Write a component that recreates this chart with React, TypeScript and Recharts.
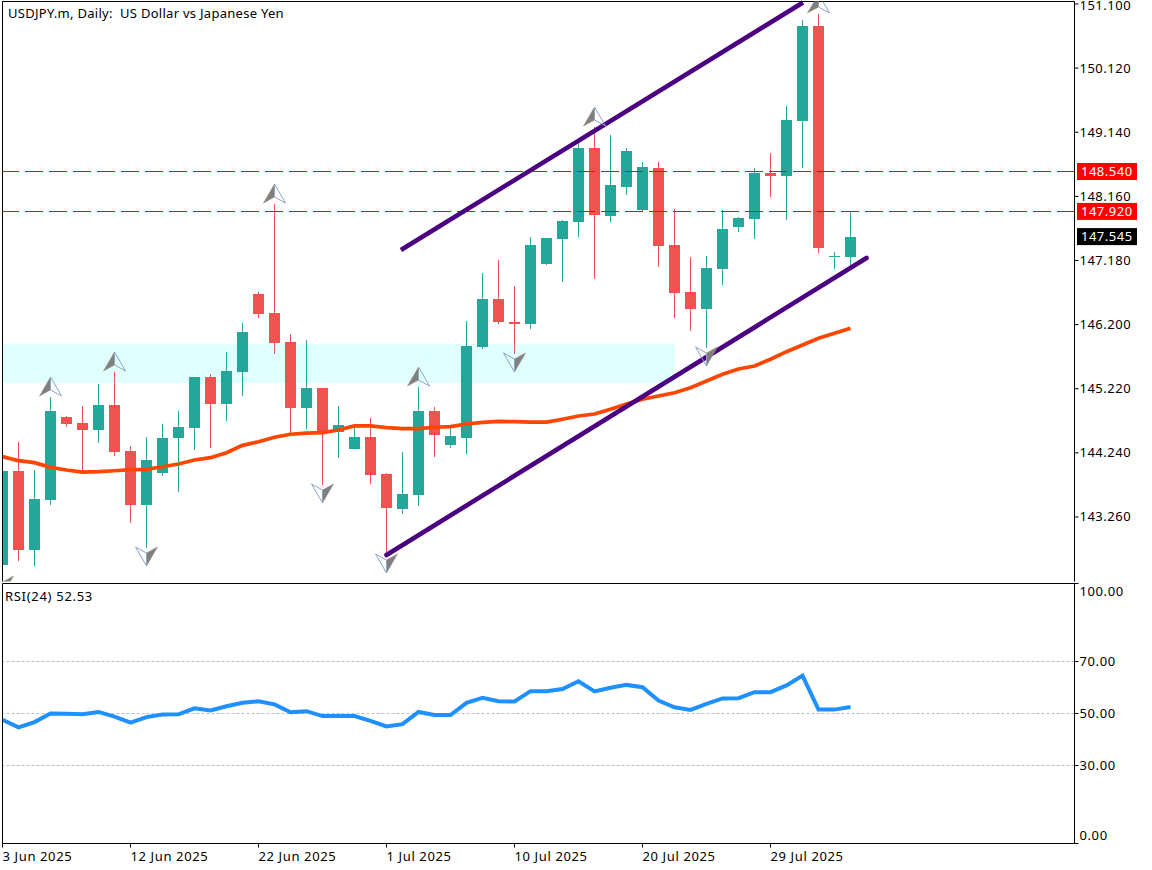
import {
  ComposedChart, Bar, Line, Scatter, XAxis, YAxis, ReferenceLine, ReferenceArea,
} from 'recharts'

const dates = [
  '3 Jun 2025', '4 Jun 2025', '5 Jun 2025', '6 Jun 2025', '8 Jun 2025', '9 Jun 2025', '10 Jun 2025', '11 Jun 2025', '12 Jun 2025',
  '13 Jun 2025', '15 Jun 2025', '16 Jun 2025', '17 Jun 2025', '18 Jun 2025', '19 Jun 2025', '20 Jun 2025', '22 Jun 2025',
  '23 Jun 2025', '24 Jun 2025', '25 Jun 2025', '26 Jun 2025', '27 Jun 2025', '29 Jun 2025', '30 Jun 2025', '1 Jul 2025',
  '2 Jul 2025', '3 Jul 2025', '4 Jul 2025', '6 Jul 2025', '7 Jul 2025', '8 Jul 2025', '9 Jul 2025', '10 Jul 2025',
  '11 Jul 2025', '13 Jul 2025', '14 Jul 2025', '15 Jul 2025', '16 Jul 2025', '17 Jul 2025', '18 Jul 2025', '20 Jul 2025',
  '21 Jul 2025', '22 Jul 2025', '23 Jul 2025', '24 Jul 2025', '25 Jul 2025', '27 Jul 2025', '28 Jul 2025', '29 Jul 2025',
  '30 Jul 2025', '31 Jul 2025', '1 Aug 2025', '3 Aug 2025', '4 Aug 2025',
]

const opens = [
  142.526, 143.963, 142.755, 143.520, 144.788, 144.696, 144.589, 144.971, 144.268, 143.443,
  143.932, 144.467, 144.620, 145.399, 144.987, 145.476, 146.668, 146.377, 145.934, 144.926,
  145.231, 144.559, 144.299, 144.482, 143.917, 143.382, 143.596, 144.880, 144.360, 144.467,
  145.858, 146.591, 146.240, 146.209, 147.126, 147.508, 147.768, 148.899, 147.860, 148.303,
  147.952, 148.594, 147.417, 146.698, 146.439, 147.050, 147.692, 147.814, 148.517, 148.471,
  149.312, 150.764, 147.233, 147.233,
]
const highs = [
  143.963, 144.406, 143.978, 145.094, 144.803, 144.956, 145.292, 145.476, 144.345, 144.482,
  144.681, 144.880, 145.399, 145.445, 145.781, 146.225, 146.698, 148.043, 146.056, 145.965,
  145.231, 144.956, 144.681, 144.773, 143.932, 144.253, 145.246, 144.941, 144.651, 146.255,
  146.989, 147.187, 146.790, 147.539, 147.524, 147.799, 149.052, 149.220, 149.098, 148.899,
  148.685, 148.685, 147.967, 147.233, 147.249, 147.952, 147.845, 148.594, 148.823, 149.541,
  150.855, 150.947, 147.310, 147.921,
]
const lows = [
  142.343, 142.587, 142.511, 143.443, 144.635, 143.932, 144.391, 144.192, 143.168, 142.786,
  143.886, 143.642, 144.284, 144.314, 144.727, 145.109, 146.301, 145.751, 144.498, 144.605,
  143.749, 144.161, 144.299, 143.764, 142.679, 143.306, 143.428, 144.177, 144.314, 144.223,
  145.827, 146.209, 145.751, 146.133, 147.111, 146.851, 147.539, 146.897, 147.768, 148.181,
  147.921, 147.080, 146.301, 146.102, 145.843, 146.805, 147.615, 147.508, 148.150, 147.799,
  148.594, 147.295, 147.050, 147.080,
]
const closes = [
  143.963, 142.755, 143.535, 144.880, 144.681, 144.589, 144.971, 144.253, 143.443, 144.131,
  144.467, 144.635, 145.399, 144.987, 145.491, 146.087, 146.362, 145.919, 144.926, 145.231,
  144.559, 144.666, 144.482, 143.902, 143.397, 143.611, 144.880, 144.513, 144.498, 145.873,
  146.591, 146.240, 146.209, 147.417, 147.524, 147.784, 148.899, 147.875, 148.334, 148.853,
  148.609, 147.402, 146.683, 146.439, 147.065, 147.662, 147.829, 148.517, 148.471, 149.327,
  150.764, 147.371, 147.249, 147.545,
]
const maValues = [
  144.182, 144.120, 144.090, 144.019, 143.978, 143.947, 143.952, 143.967, 143.983, 143.989,
  144.028, 144.070, 144.131, 144.166, 144.243, 144.355, 144.410, 144.478, 144.524, 144.543,
  144.548, 144.589, 144.651, 144.651, 144.625, 144.609, 144.609, 144.631, 144.640, 144.681,
  144.707, 144.722, 144.716, 144.711, 144.711, 144.753, 144.803, 144.834, 144.906, 144.987,
  145.059, 145.109, 145.159, 145.236, 145.338, 145.441, 145.522, 145.568, 145.670, 145.786,
  145.888, 145.991, 146.067, 146.144,
]
const rsiValues = [
  47.6, 44.7, 46.7, 50.0, 49.9, 49.7, 50.6, 48.8, 46.5, 48.6,
  49.6, 49.7, 52.0, 51.2, 52.8, 54.1, 54.7, 53.5, 50.5, 50.9,
  49.0, 49.0, 49.0, 47.2, 45.0, 45.9, 50.6, 49.4, 49.4, 54.1,
  56.0, 54.7, 54.6, 58.6, 58.6, 59.4, 62.4, 58.5, 59.9, 61.0,
  60.1, 55.0, 52.4, 51.4, 53.7, 55.8, 55.9, 58.2, 58.2, 60.8,
  64.6, 51.5, 51.5, 52.53,
]

const priceTicks = [143.26, 144.24, 145.22, 146.2, 147.18, 148.16, 149.14, 150.12, 151.1]
const rsiTicks = [0, 30, 50, 70, 100]
const dateTicks = [0, 8, 16, 24, 32, 40, 48]
const upArrows = [3, 7, 17, 26, 37, 51]
const downArrows = [0, 9, 20, 24, 32, 44]

const rows = dates.map((date, i) => ({
  x: i, date, open: opens[i], high: highs[i], low: lows[i], close: closes[i],
  range: [lows[i], highs[i]], ma: maValues[i], rsi: rsiValues[i],
}))
const upRows = upArrows.map(i => ({ x: i, y: highs[i] }))
const downRows = downArrows.map(i => ({ x: i, y: lows[i] }))

const FONT = '"Noto Sans", sans-serif'
const UP = '#26A69A'
const DOWN = '#EF5350'
const X_DOMAIN = [0, 67]
const PRICE_DOMAIN = [142.274, 151.138]

function Candle({ x, y, width, height, payload }: any) {
  const { open, high, low, close } = payload
  const color = close >= open ? UP : DOWN
  const perUnit = height / (high - low)
  const top = y + (high - Math.max(open, close)) * perUnit
  const bodyH = Math.max(Math.abs(open - close) * perUnit, 1.5)
  const mid = x + width / 2
  return (
    <g shapeRendering="crispEdges">
      <rect x={mid - 0.5} y={y} width={1} height={height} fill={color} />
      <rect x={x} y={top} width={width} height={bodyH} fill={color} />
    </g>
  )
}

function UpArrow({ cx, cy }: any) {
  return (
    <g>
      <polygon points={`${cx},${cy - 20} ${cx - 11},${cy - 1} ${cx},${cy - 7}`} fill="#808080" stroke="#a08f80" strokeWidth={0.6} />
      <polygon points={`${cx},${cy - 20} ${cx + 11},${cy - 1} ${cx},${cy - 7}`} fill="none" stroke="#8ba3c4" strokeWidth={1} />
    </g>
  )
}

function DownArrow({ cx, cy }: any) {
  return (
    <g>
      <polygon points={`${cx},${cy + 18} ${cx + 11},${cy - 1} ${cx},${cy + 5}`} fill="#808080" stroke="#a08f80" strokeWidth={0.6} />
      <polygon points={`${cx},${cy + 18} ${cx - 11},${cy - 1} ${cx},${cy + 5}`} fill="none" stroke="#8ba3c4" strokeWidth={1} />
    </g>
  )
}

function PriceLabel({ viewBox, text, bg }: any) {
  const mid = viewBox.y
  return (
    <g>
      <rect x={1077} y={mid - 8.5} width={60} height={17} fill={bg} />
      <text x={1081} y={mid + 4.5} fontSize={13} fontFamily={FONT} letterSpacing={0.5} fill="#fff">{text}</text>
    </g>
  )
}

function PriceTick({ x, y, payload }: any) {
  const nudge = payload.value === 151.1 ? 1.5 : 0
  return <text x={x} y={y + 4.5 + nudge} fontSize={13} fontFamily={FONT} letterSpacing={0.5} fill="#000">{payload.value.toFixed(3)}</text>
}

function RsiTick({ x, y, payload }: any) {
  const shift = payload.value === 100 ? 8 : payload.value === 0 ? -8 : 0
  return <text x={x} y={y + 4.5 + shift} fontSize={13} fontFamily={FONT} letterSpacing={0.6} fill="#000">{payload.value.toFixed(2)}</text>
}

function DateTick({ x, y, payload }: any) {
  return <text x={x} y={y + 11} fontSize={13} fontFamily={FONT} letterSpacing={0.62} fill="#000">{dates[payload.value]}</text>
}

export default function App() {
  return (
    <div style={{ position: 'absolute', left: 0, top: 0, width: 1152, height: 870, background: '#fff', overflow: 'hidden' }}>
      <div style={{ position: 'absolute', left: 0, top: 0 }}>
        <ComposedChart width={1152} height={583} data={rows} margin={{ top: 1.5, right: 0.5, bottom: 1.5, left: 2.5 }}>
          <XAxis dataKey="x" type="number" domain={X_DOMAIN} allowDataOverflow tick={false} tickLine={false} height={0} axisLine={{ stroke: '#000' }} />
          <YAxis orientation="right" type="number" domain={PRICE_DOMAIN} allowDataOverflow ticks={priceTicks} width={77} tickSize={4} tickMargin={1} interval={0} tick={<PriceTick />} axisLine={{ stroke: '#000' }} tickLine={{ stroke: '#000' }} />
          <ReferenceArea x1={0} x2={42} y1={145.308} y2={145.904} fill="#E0FFFF" fillOpacity={1} stroke="none" />
          <ReferenceLine y={148.54} stroke="#FF0000" strokeDasharray="18 6" shapeRendering="crispEdges" label={<PriceLabel text="148.540" bg="#FF0000" />} />
          <ReferenceLine y={147.93} stroke="#FF0000" strokeDasharray="18 6" shapeRendering="crispEdges" label={<PriceLabel text="147.920" bg="#FF0000" />} />
          <ReferenceLine y={147.545} stroke="none" label={<PriceLabel text="147.545" bg="#000000" />} />
          <Line dataKey="ma" stroke="#FF4500" strokeWidth={3.7} dot={false} isAnimationActive={false} />
          <Bar dataKey="range" barSize={11} shape={<Candle />} isAnimationActive={false} />
          <ReferenceLine segment={[{ x: 24, y: 142.679 }, { x: 54, y: 147.218 }]} stroke="#4B0082" strokeWidth={4.6} strokeLinecap="round" />
          <ReferenceLine segment={[{ x: 24.9, y: 147.34 }, { x: 50.03, y: 151.123 }]} stroke="#4B0082" strokeWidth={4.6} />
          <Scatter data={upRows} dataKey="y" shape={<UpArrow />} isAnimationActive={false} />
          <Scatter data={downRows} dataKey="y" shape={<DownArrow />} isAnimationActive={false} />
          <ReferenceLine x={0} stroke="#000" />
          <ReferenceLine y={151.138} stroke="#000" />
        </ComposedChart>
      </div>
      <div style={{ position: 'absolute', left: 0, top: 583 }}>
        <ComposedChart width={1152} height={287} data={rows} margin={{ top: 0.5, right: 0.5, bottom: 0.5, left: 2.5 }}>
          <XAxis dataKey="x" type="number" domain={X_DOMAIN} allowDataOverflow ticks={dateTicks} interval={0} height={26} tickSize={4} tick={<DateTick />} axisLine={{ stroke: '#000' }} tickLine={{ stroke: '#000' }} />
          <YAxis orientation="right" type="number" domain={[0, 100]} ticks={rsiTicks} interval={0} width={77} tickSize={4} tickMargin={1} tick={<RsiTick />} axisLine={{ stroke: '#000' }} tickLine={{ stroke: '#000' }} />
          <ReferenceLine y={70} stroke="#C0C0C0" strokeDasharray="3 2" />
          <ReferenceLine y={50} stroke="#C0C0C0" strokeDasharray="3 2" />
          <ReferenceLine y={30} stroke="#C0C0C0" strokeDasharray="3 2" />
          <Line dataKey="rsi" stroke="#1E90FF" strokeWidth={4} dot={false} isAnimationActive={false} />
          <ReferenceLine x={0} stroke="#000" />
          <ReferenceLine y={100} stroke="#000" />
        </ComposedChart>
      </div>
      <div style={{ position: 'absolute', left: 8, top: 4, fontFamily: FONT, fontSize: 13, lineHeight: '18px', letterSpacing: 0.28, whiteSpace: 'pre', color: '#000' }}>USDJPY.m, Daily:  US Dollar vs Japanese Yen</div>
      <div style={{ position: 'absolute', left: 5, top: 587, fontFamily: FONT, fontSize: 13, lineHeight: '18px', letterSpacing: 0.7, whiteSpace: 'pre', color: '#000' }}>RSI(24) 52.53</div>
    </div>
  )
}
